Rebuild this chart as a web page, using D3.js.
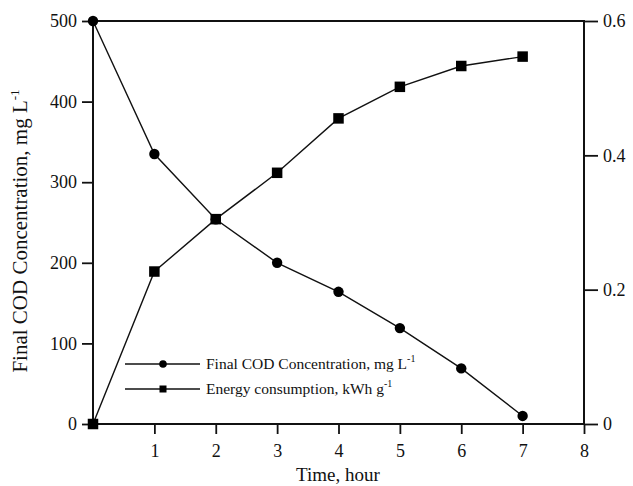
<!DOCTYPE html>
<html>
<head>
<meta charset="utf-8">
<script src="https://cdn.jsdelivr.net/npm/d3@7"></script>
<style>
  html, body { margin: 0; padding: 0; background: #fff; }
  svg text { font-family: "Liberation Serif", "Times New Roman", serif; fill: #111; }
</style>
</head>
<body>
<svg id="chart" width="633" height="486"></svg>
<script>
// Treatment time (hours) and measured series
const hours = [0, 1, 2, 3, 4, 5, 6, 7];
const codValues = [500, 335, 254, 200, 164, 119, 69, 10];          // mg L-1
const energyValues = [0, 0.227, 0.305, 0.374, 0.455, 0.502, 0.533, 0.547]; // kWh g-1

const xTicks = [1, 2, 3, 4, 5, 6, 7, 8];
const leftTicks = [0, 100, 200, 300, 400, 500];
const rightTicks = [0, 0.2, 0.4, 0.6];

const serif = '"Liberation Serif", "Times New Roman", serif';
const svg = d3.select("#chart");
const m = { left: 93, right: 584, top: 21, bottom: 424 };

const x = d3.scaleLinear().domain([0, 8]).range([m.left, m.right]);
const yL = d3.scaleLinear().domain([0, 500]).range([m.bottom, m.top]);
const yR = d3.scaleLinear().domain([0, 0.6]).range([m.bottom, m.top]);

function styleAxis(g) {
  g.attr("font-family", serif);
  g.select(".domain").remove();
  g.selectAll(".tick line").attr("stroke", "#111").attr("stroke-width", 1.8);
  g.selectAll(".tick text").style("font-size", "18px").style("font-family", serif).attr("fill", "#111");
}

// Bottom axis
svg.append("g")
  .attr("transform", `translate(0,${m.bottom})`)
  .call(d3.axisBottom(x).tickValues(xTicks).tickFormat(d3.format("d")).tickSize(10).tickPadding(10))
  .call(styleAxis);

// Left axis
svg.append("g")
  .attr("transform", `translate(${m.left},0)`)
  .call(d3.axisLeft(yL).tickValues(leftTicks).tickSize(11).tickPadding(5))
  .call(styleAxis);

// Right axis
svg.append("g")
  .attr("transform", `translate(${m.right},0)`)
  .call(d3.axisRight(yR).tickValues(rightTicks).tickFormat(d => d === 0 ? "0" : d3.format(".1f")(d)).tickSize(14).tickPadding(5))
  .call(styleAxis);

// Frame
svg.append("rect")
  .attr("x", m.left).attr("y", m.top)
  .attr("width", m.right - m.left).attr("height", m.bottom - m.top)
  .attr("fill", "none").attr("stroke", "#111").attr("stroke-width", 2);

// Series lines
const codLine = d3.line().x((d, i) => x(hours[i])).y(d => yL(d));
const energyLine = d3.line().x((d, i) => x(hours[i])).y(d => yR(d));

svg.append("path").datum(codValues)
  .attr("d", codLine).attr("fill", "none").attr("stroke", "#111").attr("stroke-width", 1.4);
svg.append("path").datum(energyValues)
  .attr("d", energyLine).attr("fill", "none").attr("stroke", "#111").attr("stroke-width", 1.4);

// Markers
svg.append("g").selectAll("circle").data(codValues).join("circle")
  .attr("cx", (d, i) => x(hours[i])).attr("cy", d => yL(d)).attr("r", 5.2).attr("fill", "#000");

const sq = 10.5;
svg.append("g").selectAll("rect").data(energyValues).join("rect")
  .attr("x", (d, i) => x(hours[i]) - sq / 2).attr("y", d => yR(d) - sq / 2)
  .attr("width", sq).attr("height", sq).attr("fill", "#000");

// Legend
const legend = svg.append("g");
const legendRows = [
  { y: 364, shape: "circle", label: "Final COD Concentration, mg L", sup: "-1" },
  { y: 389, shape: "square", label: "Energy consumption, kWh g", sup: "-1" }
];
legendRows.forEach(r => {
  legend.append("line").attr("x1", 125).attr("x2", 200).attr("y1", r.y).attr("y2", r.y)
    .attr("stroke", "#111").attr("stroke-width", 1.3);
  if (r.shape === "circle") {
    legend.append("circle").attr("cx", 163).attr("cy", r.y).attr("r", 3.8).attr("fill", "#000");
  } else {
    legend.append("rect").attr("x", 159.5).attr("y", r.y - 3.5).attr("width", 7).attr("height", 7).attr("fill", "#000");
  }
  const t = legend.append("text").attr("x", 206).attr("y", r.y + 5)
    .style("font-size", "15.5px").style("font-family", serif);
  t.append("tspan").text(r.label);
  t.append("tspan").attr("dy", -7).style("font-size", "10px").text(r.sup);
});

// Axis titles
svg.append("text")
  .attr("x", 338).attr("y", 481).attr("text-anchor", "middle")
  .style("font-size", "19px").style("font-family", serif).text("Time, hour");

const yTitle = svg.append("text")
  .attr("transform", "translate(27,231) rotate(-90)")
  .attr("text-anchor", "middle").style("font-size", "21px").style("font-family", serif);
yTitle.append("tspan").text("Final COD Concentration, mg L");
yTitle.append("tspan").attr("dy", -8).style("font-size", "13px").text("-1");
</script>
</body>
</html>
